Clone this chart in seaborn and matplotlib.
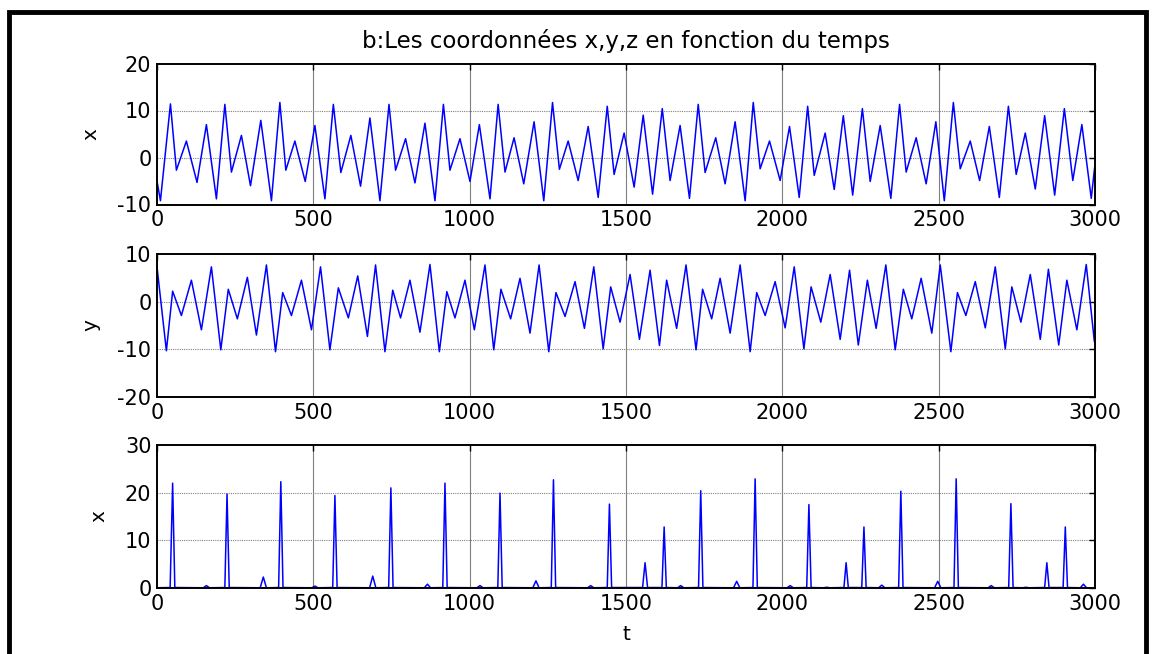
import pandas as pd
import matplotlib.pyplot as plt
import matplotlib.patches as mpatches
import seaborn as sns

# x(t): extrema
x_t = [0, 11, 43, 62, 94, 128, 158, 190, 217, 238, 270, 299, 332, 366, 393, 412, 441, 474,
       505, 537, 564, 588, 620, 651, 681, 713, 742, 763, 795, 825, 857, 889, 916, 937, 969,
       1001, 1031, 1065, 1091, 1113, 1142, 1173, 1206, 1237, 1265, 1287, 1315, 1347, 1379,
       1411, 1440, 1462, 1494, 1526, 1555, 1585, 1616, 1641, 1673, 1703, 1731, 1753, 1787,
       1817, 1849, 1881, 1907, 1929, 1959, 1993, 2023, 2054, 2081, 2102, 2137, 2166, 2195,
       2225, 2256, 2281, 2313, 2347, 2375, 2396, 2428, 2460, 2491, 2518, 2547, 2569, 2601,
       2631, 2662, 2694, 2723, 2748, 2777, 2809, 2839, 2871, 2902, 2929, 2958, 2988, 2999]
x_v = [-5.0, -9.2, 11.4, -2.7, 3.5, -5.3, 7.0, -8.8, 11.3, -3.1, 4.7, -6.0, 7.9, -9.2, 11.7,
       -2.7, 3.5, -5.1, 6.8, -8.8, 11.3, -3.2, 4.7, -6.1, 8.4, -9.2, 11.3, -2.7, 4.0, -5.4,
       7.3, -9.2, 11.3, -2.7, 4.0, -5.1, 7.0, -8.8, 11.3, -3.1, 4.2, -5.6, 7.6, -9.2, 11.7,
       -2.5, 3.5, -4.9, 6.6, -8.5, 10.9, -3.6, 5.2, -6.3, 9.0, -7.8, 10.4, -4.9, 6.8, -8.7,
       11.3, -3.2, 4.2, -5.6, 7.6, -9.2, 11.7, -2.4, 3.5, -4.9, 6.6, -8.5, 10.9, -3.8, 5.2,
       -6.8, 8.9, -8.0, 10.4, -5.1, 6.8, -8.7, 11.3, -3.1, 4.2, -5.6, 7.6, -9.2, 11.7, -2.4,
       3.5, -4.9, 6.6, -8.5, 10.9, -3.6, 5.2, -6.7, 8.9, -8.0, 10.4, -4.9, 7.0, -8.7, -2.0]

# y(t): extrema
y_t = [0, 30, 50, 78, 110, 142, 174, 204, 228, 257, 289, 318, 350, 379, 402, 430, 462, 494,
       523, 553, 580, 612, 642, 673, 699, 729, 754, 779, 809, 841, 873, 903, 927, 953, 985,
       1015, 1049, 1077, 1100, 1131, 1161, 1193, 1222, 1253, 1276, 1305, 1337, 1367, 1397,
       1427, 1451, 1481, 1513, 1543, 1577, 1607, 1630, 1662, 1692, 1724, 1745, 1774, 1801,
       1833, 1865, 1897, 1918, 1945, 1977, 2009, 2038, 2069, 2092, 2123, 2153, 2185, 2215,
       2243, 2272, 2300, 2331, 2361, 2387, 2414, 2444, 2478, 2505, 2539, 2560, 2587, 2617,
       2649, 2681, 2713, 2734, 2763, 2793, 2825, 2851, 2884, 2910, 2942, 2972, 2998]
y_v = [7.3, -10.3, 2.2, -2.9, 4.5, -5.9, 7.3, -10.1, 2.6, -3.6, 5.1, -7.0, 7.7, -10.5, 1.9,
       -2.9, 4.5, -5.9, 7.3, -10.1, 2.9, -3.4, 5.4, -7.3, 7.7, -10.5, 2.4, -3.4, 4.5, -6.4,
       7.8, -10.5, 2.1, -3.4, 4.5, -5.9, 7.7, -10.1, 2.6, -3.6, 4.9, -6.6, 7.7, -10.5, 1.9,
       -3.1, 4.2, -5.6, 7.3, -9.9, 3.1, -4.3, 5.7, -7.9, 6.6, -9.2, 4.5, -5.6, 7.7, -10.1,
       2.6, -3.6, 4.9, -6.6, 7.7, -10.5, 1.9, -2.9, 4.2, -5.5, 7.3, -9.9, 3.1, -4.3, 5.7,
       -7.9, 6.6, -9.1, 4.5, -5.6, 7.7, -10.1, 2.6, -3.6, 4.9, -6.6, 7.7, -10.5, 1.9, -2.9,
       4.2, -5.5, 7.3, -9.9, 3.1, -4.3, 5.7, -7.9, 6.8, -9.1, 4.5, -5.9, 7.8, -8.4]

# z(t): spikes and small bumps
z_t = [0, 42, 50, 57, 148, 158, 168, 217, 224, 231, 330, 340, 350, 389, 396, 403, 495, 505,
       515, 562, 569, 576, 680, 690, 700, 741, 748, 755, 855, 865, 875, 914, 921, 928, 1023,
       1033, 1043, 1090, 1097, 1104, 1202, 1212, 1222, 1261, 1268, 1275, 1377, 1387, 1397,
       1440, 1447, 1454, 1553, 1561, 1569, 1615, 1622, 1629, 1665, 1675, 1685, 1732, 1739,
       1746, 1844, 1854, 1864, 1906, 1913, 1920, 2015, 2025, 2035, 2078, 2085, 2092, 2132,
       2142, 2152, 2197, 2204, 2211, 2254, 2261, 2268, 2308, 2318, 2328, 2372, 2379, 2386,
       2487, 2497, 2507, 2549, 2556, 2563, 2658, 2668, 2678, 2724, 2731, 2738, 2769, 2779,
       2789, 2839, 2846, 2853, 2898, 2905, 2912, 2953, 2963, 2973, 3000]
z_v = [0.05, 0.1, 22.0, 0.1, 0.05, 0.5, 0.05, 0.1, 19.7, 0.1, 0.05, 2.3, 0.05, 0.1, 22.3, 0.1,
       0.05, 0.4, 0.05, 0.1, 19.4, 0.1, 0.05, 2.5, 0.05, 0.1, 21.0, 0.1, 0.05, 0.8, 0.05, 0.1,
       22.0, 0.1, 0.05, 0.5, 0.05, 0.1, 19.9, 0.1, 0.05, 1.5, 0.05, 0.1, 22.7, 0.1, 0.05, 0.5,
       0.05, 0.1, 17.6, 0.1, 0.1, 5.3, 0.1, 0.1, 12.8, 0.1, 0.05, 0.5, 0.05, 0.1, 20.4, 0.1,
       0.05, 1.4, 0.05, 0.1, 22.9, 0.1, 0.05, 0.5, 0.05, 0.1, 17.5, 0.1, 0.05, 0.15, 0.05,
       0.1, 5.3, 0.1, 0.1, 12.8, 0.1, 0.05, 0.6, 0.05, 0.1, 20.3, 0.1, 0.05, 1.4, 0.05, 0.1,
       22.9, 0.1, 0.05, 0.5, 0.05, 0.1, 17.7, 0.1, 0.05, 0.15, 0.05, 0.1, 5.3, 0.1, 0.1, 12.8,
       0.1, 0.05, 0.8, 0.05, 0.05]

xticks = [0, 500, 1000, 1500, 2000, 2500, 3000]
panels = [
    (x_t, x_v, 'x', [-10, 0, 10, 20]),
    (y_t, y_v, 'y', [-20, -10, 0, 10]),
    (z_t, z_v, 'x', [0, 10, 20, 30]),
]

sns.set_style('white')
plt.rcParams['font.family'] = ['DejaVu Sans']
plt.rcParams['axes.unicode_minus'] = False
plt.rcParams['text.color'] = 'black'
plt.rcParams['axes.labelcolor'] = 'black'
plt.rcParams['xtick.color'] = 'black'
plt.rcParams['ytick.color'] = 'black'

fig = plt.figure(figsize=(11.54, 6.54), dpi=100)
left, width = 157 / 1154, 938 / 1154
boxes = [(1 - 204.5 / 654, 141 / 654), (1 - 397 / 654, 143 / 654), (1 - 588 / 654, 143 / 654)]

axes = []
for (t, v, lab, yt), (b, h) in zip(panels, boxes):
    ax = fig.add_axes([left, b, width, h])
    df = pd.DataFrame({'t': t, 'v': v})
    sns.lineplot(data=df, x='t', y='v', ax=ax, color='#0000ff', lw=1.1,
                 estimator=None, sort=False)
    ax.set_xlim(0, 3000)
    ax.set_ylim(yt[0], yt[-1])
    ax.set_xticks(xticks)
    ax.set_yticks(yt)
    ax.set_xlabel('')
    ax.set_ylabel(lab, fontsize=14.5, labelpad=12)
    for xv in xticks[1:-1]:
        ax.axvline(xv, color='#808080', lw=0.8, zorder=0)
    for yv in yt[1:-1]:
        ax.axhline(yv, color='#808080', lw=0.8, ls=(0, (1, 1)), zorder=0)
    ax.tick_params(direction='in', length=4, width=1, labelsize=15,
                   top=True, right=True, pad=4)
    for s in ax.spines.values():
        s.set_color('black')
        s.set_linewidth(1.4)
    axes.append(ax)

axes[-1].set_xlabel('t', fontsize=14.5, labelpad=8)
fig.text(626 / 1154, 1 - 41 / 654, 'b:Les coordonnées x,y,z en fonction du temps',
         ha='center', va='center', fontsize=16.5)

fig.patches.append(mpatches.Rectangle((9 / 1154, -0.02), 1137 / 1154, 1 - 12 / 654 + 0.02,
                                      transform=fig.transFigure, fill=False,
                                      edgecolor='black', lw=3.5))

fig.savefig('out.png', dpi=100)
